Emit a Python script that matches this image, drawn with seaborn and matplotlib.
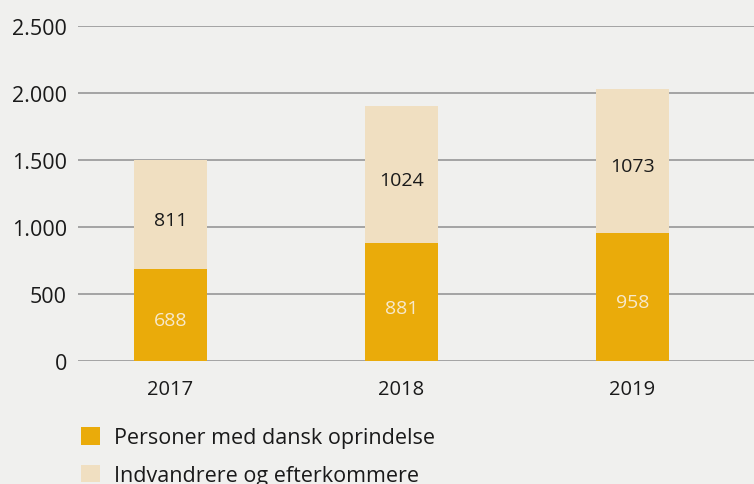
import matplotlib
matplotlib.use("Agg")
import matplotlib.pyplot as plt
import matplotlib.ticker as mticker
from matplotlib.patches import Patch
import seaborn as sns
import pandas as pd

# --- DATA ---
years = ["2017", "2018", "2019"]
dansk = [688, 881, 958]
indvandrere = [811, 1024, 1073]
legend_labels = ["Personer med dansk oprindelse", "Indvandrere og efterkommere"]

# --- STYLE ---
BG = "#f0f0ee"
DARK = "#eaab0a"
LIGHT = "#f0dfc1"
GRID = "#a3a3a3"

sns.set_theme(style="white")
plt.rcParams["font.family"] = ["Open Sans", "DejaVu Sans"]

df = pd.DataFrame({"year": years, "dansk": dansk, "indv": indvandrere})

fig = plt.figure(figsize=(7.54, 4.85), dpi=100, facecolor=BG)
ax = fig.add_axes([78 / 754, 123 / 485, 676 / 754, 335 / 485], facecolor=BG)

sns.barplot(data=df, x="year", y="dansk", color=DARK, width=0.316,
            saturation=1, ax=ax, zorder=3, edgecolor="none", linewidth=0)
sns.barplot(data=df, x="year", y="indv", bottom=df["dansk"], color=LIGHT,
            width=0.316, saturation=1, ax=ax, zorder=3, edgecolor="none",
            linewidth=0)

# value labels inside the segments (sit a little below the middle)
for i, (d, v) in enumerate(zip(dansk, indvandrere)):
    ax.annotate(str(d), (i, d / 2), xytext=(0, -4), textcoords="offset points",
                ha="center", va="center", fontsize=14, color="#f7e9cc", zorder=4)
    ax.annotate(str(v), (i, d + v / 2), xytext=(0, -4), textcoords="offset points",
                ha="center", va="center", fontsize=14, color="#1a1a1a", zorder=4)

ax.set_ylim(0, 2500)
ax.set_xlim(-0.40, 2.526)
ax.set_yticks(range(0, 2501, 500))
ax.yaxis.set_major_formatter(
    mticker.FuncFormatter(lambda v, p: f"{int(v):,}".replace(",", ".")))
ax.grid(axis="y", color=GRID, linewidth=1.4, zorder=0)
ax.grid(axis="x", visible=False)
for s in ax.spines.values():
    s.set_visible(False)
ax.tick_params(axis="both", length=0, colors="#1a1a1a")
ax.tick_params(axis="y", pad=8, labelsize=15.5)
ax.tick_params(axis="x", pad=13, labelsize=14.5)
ax.set_xlabel("")
ax.set_ylabel("")

handles = [Patch(facecolor=DARK, edgecolor="none"),
           Patch(facecolor=LIGHT, edgecolor="none")]
fig.legend(handles, legend_labels, loc="upper left",
           bbox_to_anchor=(75 / 754, 1 - 422 / 485), frameon=False,
           fontsize=15.5, handlelength=0.85, handleheight=0.85,
           handletextpad=0.65, labelspacing=0.75, labelcolor="#1a1a1a",
           borderaxespad=0, borderpad=0.3)

fig.savefig("out.png", dpi=100, facecolor=BG)
